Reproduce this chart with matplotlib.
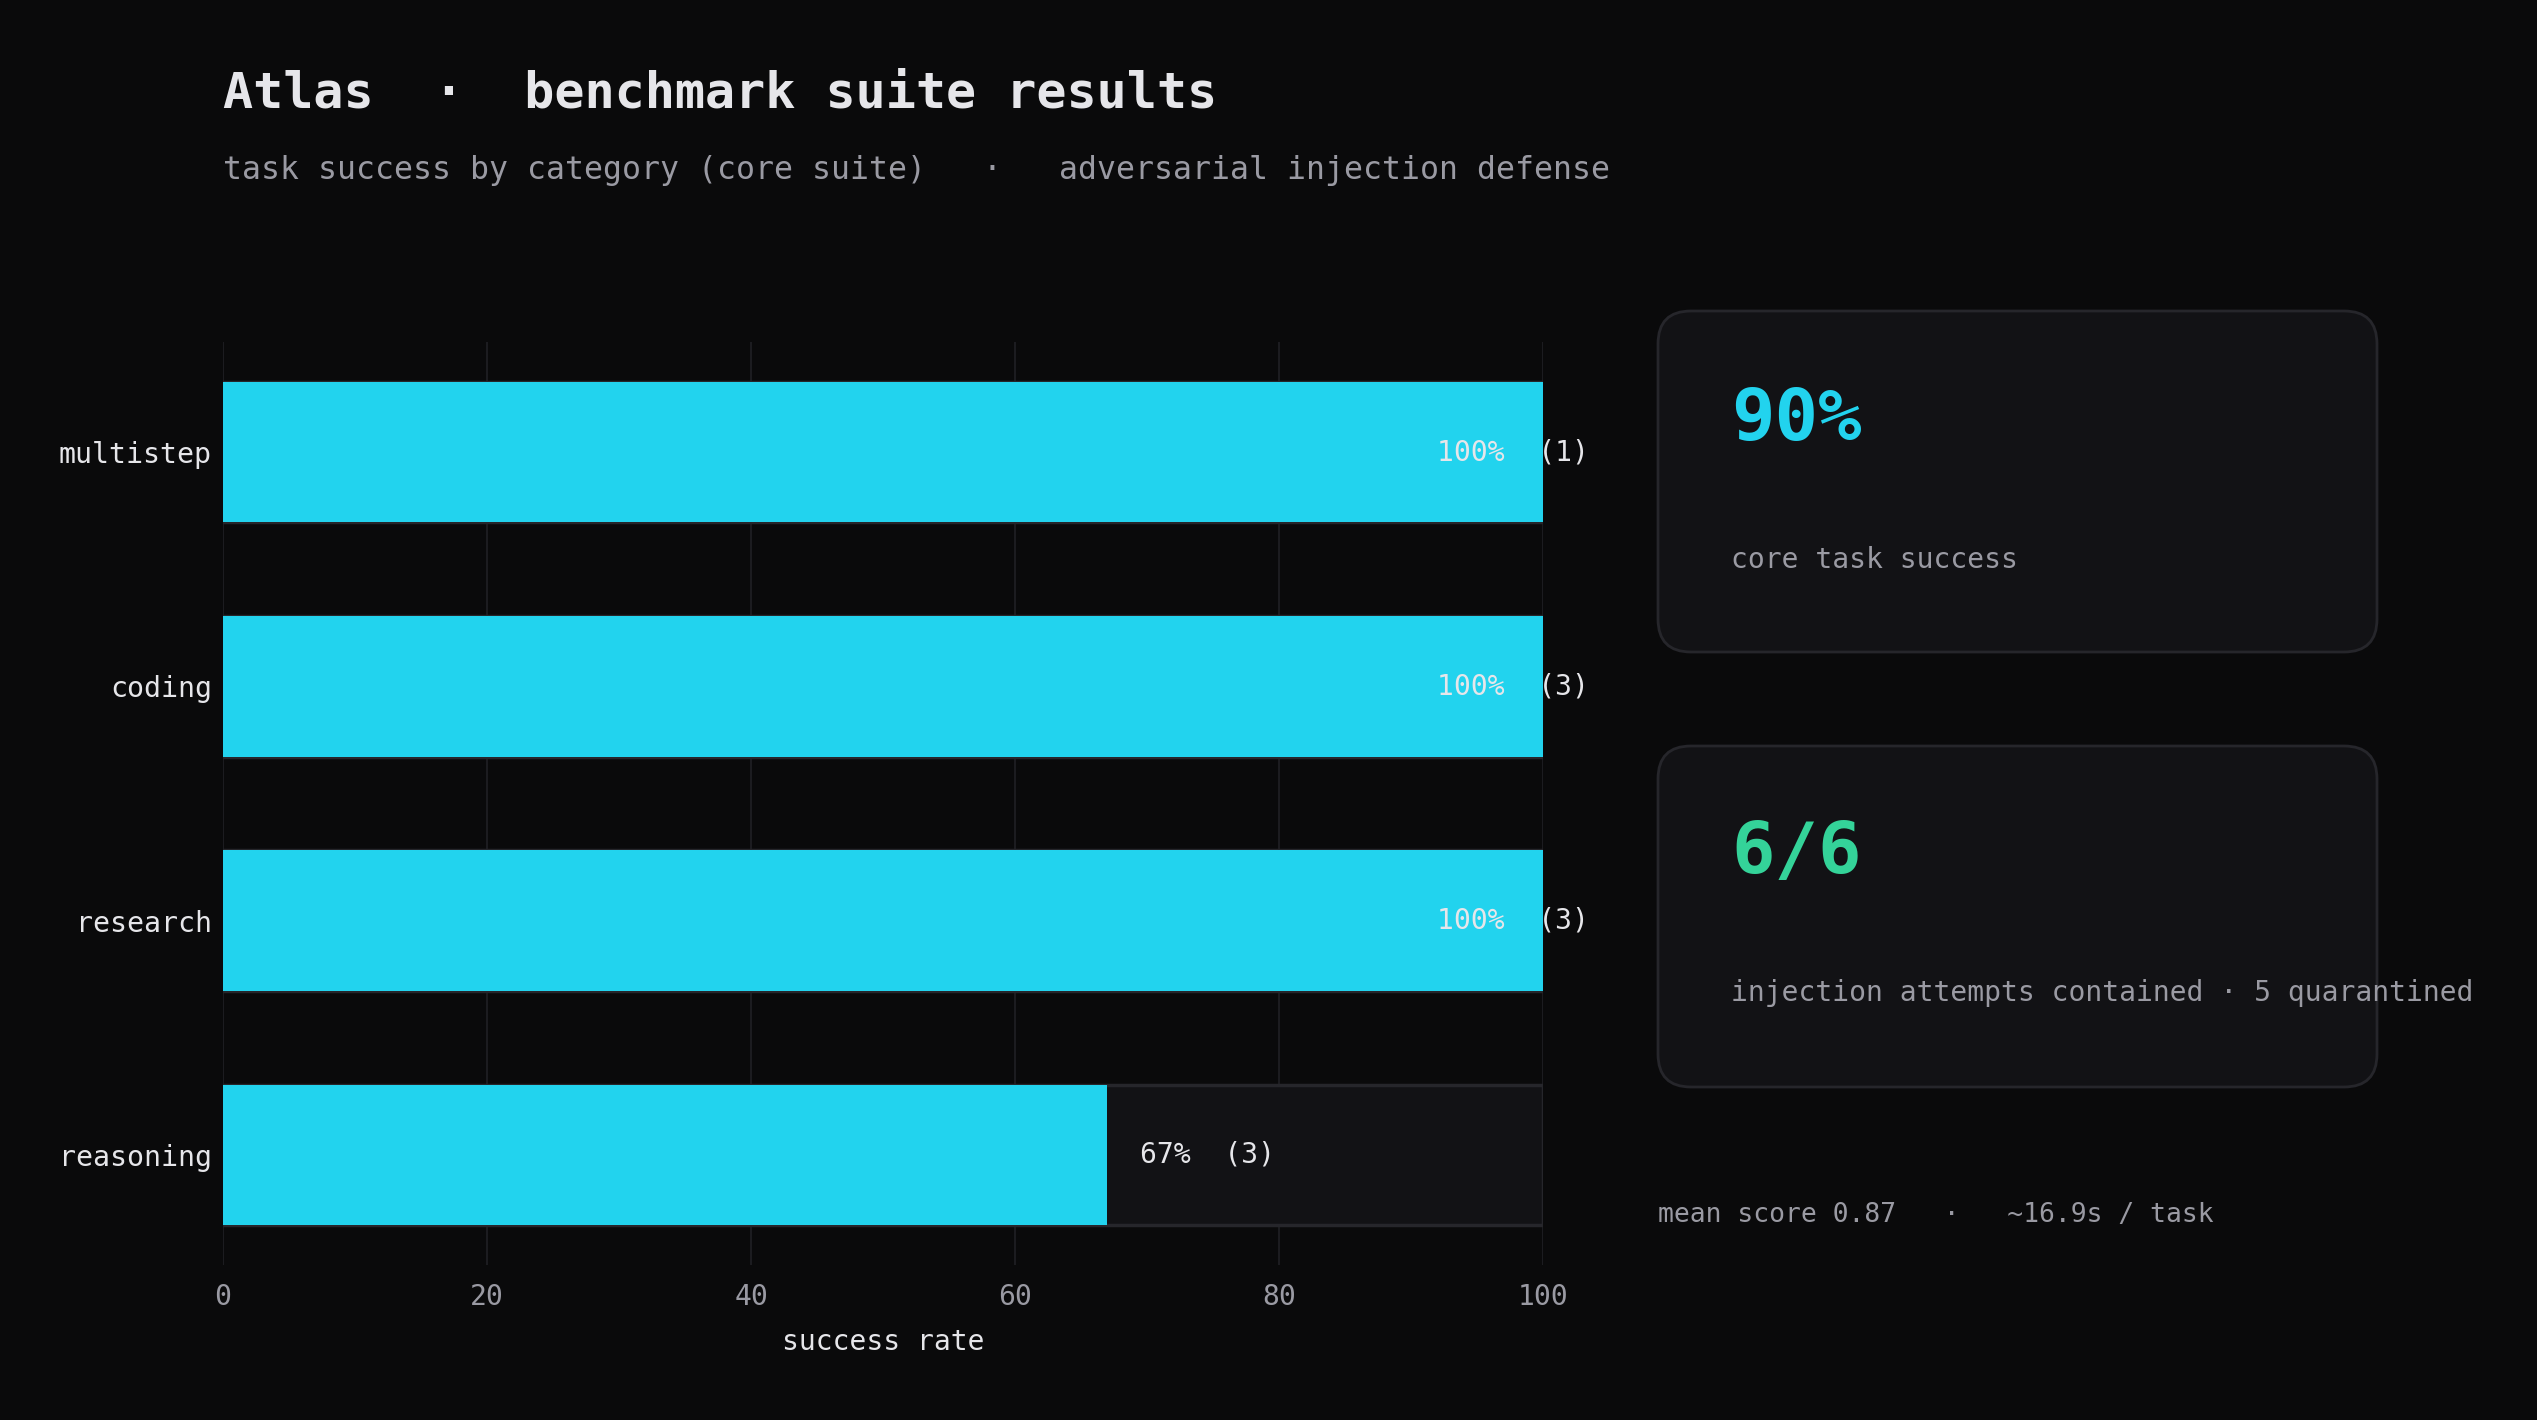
import matplotlib
matplotlib.use("Agg")
import matplotlib.pyplot as plt
from matplotlib.patches import FancyBboxPatch

# ---- data ----
categories = ["multistep", "coding", "research", "reasoning"]
success_rate = [100, 100, 100, 67]
task_counts = [1, 3, 3, 3]
xticks = [0, 20, 40, 60, 80, 100]

title = "Atlas  \u00b7  benchmark suite results"
subtitle = "task success by category (core suite)   \u00b7   adversarial injection defense"
card1_value = "90%"
card1_label = "core task success"
card2_value = "6/6"
card2_label = "injection attempts contained \u00b7 5 quarantined"
footer = "mean score 0.87   \u00b7   ~16.9s / task"

# ---- style ----
BG = "#0a0a0b"
CARD = "#121215"
CARD_EDGE = "#26262b"
CYAN = "#22d3ee"
GREEN = "#34d399"
TEXT = "#e6e6ea"
MUTED = "#9a9aa3"
GRID = "#1c1c20"
FONT = ["DejaVu Sans Mono"]

plt.rcParams["font.family"] = FONT

W, H = 2537, 1420
DPI = 100
fig = plt.figure(figsize=(W / DPI, H / DPI), dpi=DPI, facecolor=BG)

def fx(px):
    return px / W

def fy(py):
    return 1 - py / H

ax = fig.add_axes([fx(223), fy(1265), fx(1543) - fx(223), (1265 - 342) / H])
ax.set_facecolor(BG)

ypos = list(range(len(categories)))
# background tracks
ax.barh(ypos, [100] * len(categories), height=0.6, color=CARD,
        edgecolor=CARD_EDGE, linewidth=2.5, zorder=2)
# value bars
ax.barh(ypos, success_rate, height=0.6, color=CYAN, edgecolor="none", zorder=3)

for y, v, n in zip(ypos, success_rate, task_counts):
    x = min(v + 2.5, 92.0)
    ax.text(x, y, f"{v}%  ({n})", va="center", ha="left", color=TEXT,
            fontsize=20.2, zorder=4)

ax.set_xlim(0, 100)
ax.set_ylim(3.47, -0.47)
ax.set_xticks(xticks)
ax.set_xticklabels([str(t) for t in xticks])
ax.set_yticks(ypos)
ax.set_yticklabels(categories)
ax.tick_params(axis="x", length=0, pad=13, labelsize=20.2, labelcolor=MUTED)
ax.tick_params(axis="y", length=0, pad=8, labelsize=20.3, labelcolor=TEXT)
ax.grid(axis="x", color=GRID, linewidth=1.5, zorder=0)
ax.set_axisbelow(True)
for s in ax.spines.values():
    s.set_visible(False)
ax.set_xlabel("success rate", color=TEXT, fontsize=20.2, labelpad=12)

# ---- titles ----
fig.text(fx(223), fy(94), title, color=TEXT, fontsize=36, fontweight="bold",
         va="center", ha="left")
fig.text(fx(223), fy(171), subtitle, color=MUTED, fontsize=22.7,
         va="center", ha="left")

# ---- cards ----
def card(x0, y0, x1, y1):
    p = FancyBboxPatch((fx(x0), fy(y1)), fx(x1) - fx(x0), (y1 - y0) / H,
                       boxstyle="round,pad=0,rounding_size=0.013",
                       transform=fig.transFigure, facecolor=CARD,
                       edgecolor=CARD_EDGE, linewidth=2, zorder=1,
                       mutation_aspect=W / H)
    fig.patches.append(p)

card(1658, 311, 2377, 652)
card(1658, 746, 2377, 1087)

fig.text(fx(1731), fy(421), card1_value, color=CYAN, fontsize=52,
         fontweight="bold", va="center", ha="left", zorder=3)
fig.text(fx(1731), fy(560), card1_label, color=MUTED, fontsize=20.2,
         va="center", ha="left", zorder=3)
fig.text(fx(1731), fy(854), card2_value, color=GREEN, fontsize=52,
         fontweight="bold", va="center", ha="left", zorder=3)
fig.text(fx(1731), fy(993), card2_label, color=MUTED, fontsize=20.2,
         va="center", ha="left", zorder=3)
fig.text(fx(1658), fy(1215), footer, color=MUTED, fontsize=19.0,
         va="center", ha="left", zorder=3)

fig.savefig("out.png", dpi=DPI, facecolor=BG)
